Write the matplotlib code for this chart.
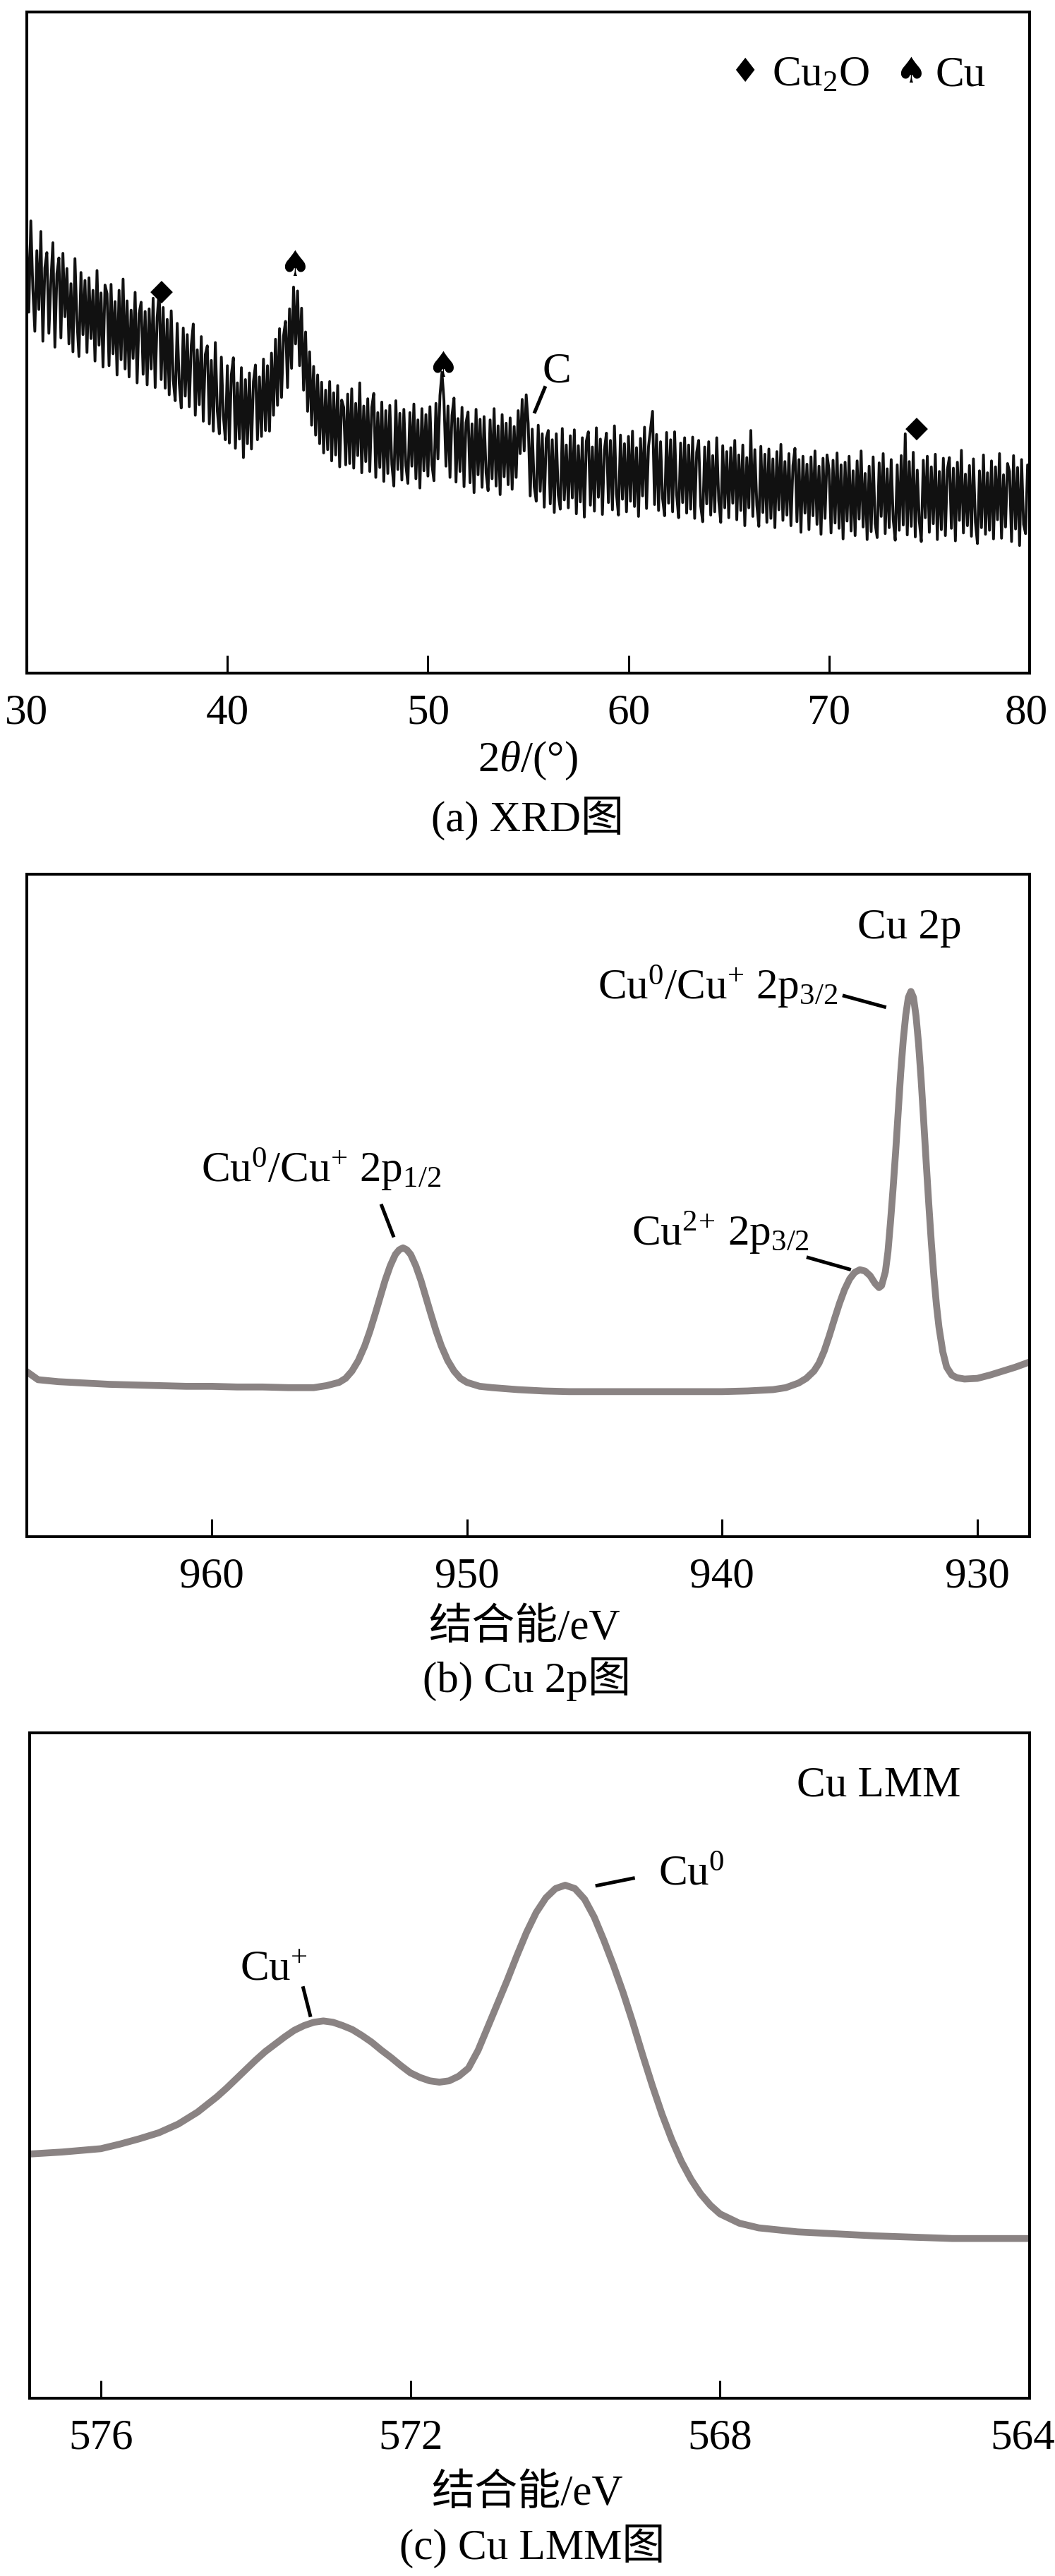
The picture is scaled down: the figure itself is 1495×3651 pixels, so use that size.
import matplotlib
matplotlib.use('Agg')
import numpy as np
import matplotlib.pyplot as plt
import matplotlib.transforms as mtransforms

plt.rcParams['font.family'] = ['Liberation Serif', 'Noto Sans CJK SC']
plt.rcParams['mathtext.fontset'] = 'custom'
plt.rcParams['mathtext.rm'] = 'Liberation Serif'
plt.rcParams['mathtext.it'] = 'Liberation Serif:italic'
plt.rcParams['mathtext.bf'] = 'Liberation Serif:bold'

# ---- (a) XRD, 30-80 deg, 0.1 deg step ----
xrd_2theta = np.linspace(30, 80, 501)
xrd_intensity = [
    65.2, 54.6, 68.4, 58.1, 51.7, 63.9, 55.0, 66.8, 50.2, 61.3,
    63.6, 51.4, 59.2, 65.1, 49.3, 60.4, 62.8, 50.7, 63.5, 53.9,
    61.2, 49.8, 58.9, 48.6, 62.7, 53.3, 47.9, 60.6, 51.2, 59.4,
    48.5, 59.8, 50.6, 57.9, 47.2, 60.9, 49.6, 57.5, 46.3, 58.7,
    57.4, 46.5, 58.8, 48.3, 56.2, 45.1, 57.9, 47.4, 59.6, 46.0,
    56.3, 44.8, 54.9, 47.6, 57.6, 43.9, 54.4, 56.1, 45.2, 54.7,
    43.6, 55.1, 46.0, 56.7, 43.2, 53.8, 57.9, 44.4, 55.3, 43.1,
    53.5, 42.1, 54.8, 44.3, 41.2, 52.9, 43.8, 40.1, 52.2, 41.9,
    51.2, 40.3, 49.6, 52.8, 39.0, 48.9, 40.6, 50.9, 38.1, 48.2,
    49.5, 37.7, 47.3, 36.6, 50.0, 39.6, 36.2, 47.8, 38.9, 35.3,
    46.5, 34.8, 45.2, 47.7, 34.0, 43.9, 35.4, 46.2, 32.6, 44.4,
    34.7, 45.4, 33.9, 44.1, 46.6, 35.3, 44.8, 35.8, 47.5, 36.7,
    46.5, 36.6, 48.4, 39.0, 50.5, 40.5, 52.1, 41.7, 51.0, 53.2,
    43.2, 55.1, 46.1, 58.4, 49.8, 57.8, 46.5, 55.2, 42.8, 51.6,
    39.6, 48.6, 37.5, 46.4, 36.0, 45.1, 34.7, 44.0, 33.3, 42.8,
    33.8, 44.1, 32.1, 42.4, 33.0, 43.5, 31.2, 41.3, 40.2, 31.5,
    42.2, 31.7, 43.0, 31.0, 40.8, 32.9, 43.9, 30.3, 40.4, 32.0,
    41.5, 30.5, 40.2, 42.3, 29.6, 39.4, 31.1, 41.0, 29.0, 39.7,
    30.2, 40.5, 31.6, 28.3, 41.2, 30.8, 39.3, 29.2, 39.9, 31.4,
    28.7, 39.4, 31.3, 40.7, 29.4, 38.3, 28.0, 40.0, 30.6, 39.1,
    29.8, 40.3, 31.5, 29.1, 40.8, 32.4, 42.0, 45.5, 41.2, 31.3,
    40.4, 29.6, 39.0, 41.6, 28.9, 38.5, 30.5, 40.2, 28.2, 37.9,
    39.5, 28.8, 37.7, 27.3, 39.9, 30.0, 38.4, 28.1, 38.8, 30.3,
    27.6, 38.3, 29.4, 40.0, 28.3, 37.4, 27.0, 39.1, 29.7, 37.8,
    28.5, 38.6, 27.8, 37.3, 29.6, 39.7, 33.2, 41.4, 33.6, 42.1,
    37.8, 26.8, 36.9, 28.2, 26.0, 37.5, 27.5, 36.2, 25.1, 35.5,
    36.7, 25.6, 35.3, 24.3, 36.2, 26.9, 24.8, 37.0, 26.2, 34.5,
    25.0, 35.9, 26.5, 36.8, 24.1, 34.4, 25.9, 35.6, 23.6, 35.1,
    36.5, 25.4, 34.2, 24.5, 37.1, 26.6, 35.4, 24.0, 33.8, 36.3,
    25.8, 35.2, 24.7, 37.4, 27.1, 23.9, 36.0, 26.3, 34.7, 24.4,
    35.8, 26.0, 36.6, 25.2, 34.1, 23.7, 35.5, 26.8, 37.2, 24.9,
    34.3, 36.9, 39.6, 25.5, 36.1, 24.6, 35.0, 26.4, 23.8, 36.4,
    25.7, 35.3, 24.4, 36.5, 27.0, 23.5, 34.8, 25.8, 35.6, 24.2,
    34.5, 24.8, 35.7, 23.4, 33.4, 35.2, 25.3, 22.9, 34.2, 25.6,
    35.0, 23.9, 32.9, 24.4, 35.6, 26.1, 22.8, 34.4, 25.0, 33.5,
    23.5, 34.1, 25.7, 35.2, 23.2, 33.0, 24.6, 34.5, 22.3, 32.6,
    25.0, 36.7, 23.7, 33.8, 25.4, 22.2, 34.3, 24.3, 33.1, 22.8,
    33.9, 23.4, 32.4, 22.0, 33.5, 24.7, 34.6, 23.1, 32.0, 23.9,
    33.2, 22.3, 31.4, 34.0, 22.9, 32.3, 21.3, 32.8, 24.2, 31.6,
    21.7, 32.7, 23.8, 33.6, 22.5, 31.3, 21.0, 32.5, 23.4, 33.0,
    30.8, 21.2, 32.2, 22.7, 33.3, 21.9, 31.5, 20.3, 31.9, 23.0,
    32.8, 21.5, 30.6, 20.8, 32.1, 23.3, 33.6, 22.1, 30.2, 20.2,
    31.3, 21.4, 32.7, 22.6, 20.5, 31.8, 23.7, 33.2, 21.1, 30.9,
    22.0, 32.3, 23.2, 20.1, 31.5, 21.6, 32.9, 22.4, 36.2, 20.9,
    32.0, 22.2, 33.4, 20.6, 30.7, 23.0, 19.9, 32.2, 23.5, 32.8,
    21.3, 31.2, 22.6, 33.1, 20.2, 30.5, 21.7, 32.5, 20.8, 30.8,
    32.6, 21.9, 31.0, 20.0, 31.9, 23.1, 33.7, 21.2, 30.1, 22.3,
    31.4, 20.7, 32.4, 22.8, 19.6, 30.6, 22.0, 33.0, 21.0, 30.3,
    21.6, 32.1, 20.3, 31.2, 23.2, 33.2, 20.4, 30.0, 22.1, 31.7,
    30.5, 19.9, 32.9, 21.8, 31.1, 19.3, 32.3, 22.5, 21.1, 31.5,
    27.2,
]
xrd_ticks = [30, 40, 50, 60, 70, 80]
cu2o_peaks = [(36.72, 57.7), (74.37, 36.9)]
cu_peaks = [(43.34, 61.6), (50.76, 46.3)]

# ---- (b) Cu 2p XPS ----
cu2p_be = [967.2, 966.8, 966.0, 965.0, 964.0, 963.0, 962.0, 961.0, 960.0, 959.0,
           958.0, 957.0, 956.0, 955.5, 955.0, 954.75, 954.5, 954.25, 954.0, 953.8,
           953.6, 953.4, 953.2, 953.0, 952.8, 952.65, 952.5, 952.35, 952.2, 952.0,
           951.8, 951.6, 951.4, 951.2, 951.0, 950.75, 950.5, 950.25, 950.0, 949.5,
           949.0, 948.0, 947.0, 946.0, 945.0, 944.0, 943.0, 942.0, 941.0, 940.0,
           939.0, 938.0, 937.5, 937.0, 936.7, 936.4, 936.2, 936.0, 935.8, 935.6,
           935.4, 935.2, 935.0, 934.8, 934.6, 934.4, 934.2, 934.0, 933.85, 933.75,
           933.6, 933.5, 933.4, 933.3, 933.2, 933.1, 933.0, 932.9, 932.8, 932.7,
           932.6, 932.5, 932.4, 932.3, 932.2, 932.1, 932.0, 931.9, 931.8, 931.7,
           931.6, 931.5, 931.35, 931.2, 931.0, 930.8, 930.5, 930.0, 929.5, 929.0,
           928.5, 928.0]
cu2p_int = [24.8, 23.7, 23.4, 23.2, 23.0, 22.9, 22.8, 22.7, 22.7, 22.6,
            22.6, 22.5, 22.5, 22.8, 23.3, 23.9, 25.0, 26.6, 28.8, 31.0,
            33.5, 36.1, 38.7, 40.9, 42.6, 43.3, 43.6, 43.3, 42.6, 40.9,
            38.7, 36.1, 33.5, 31.0, 28.8, 26.6, 25.0, 23.9, 23.3, 22.7,
            22.5, 22.2, 22.0, 21.9, 21.9, 21.9, 21.9, 21.9, 21.9, 21.9,
            22.0, 22.2, 22.5, 23.2, 23.9, 25.0, 26.2, 28.0, 30.3, 32.8,
            35.2, 37.3, 38.9, 39.9, 40.3, 40.1, 39.4, 38.2, 37.6, 37.9,
            40.0, 43.0, 47.5, 52.5, 58.0, 64.0, 70.0, 75.0, 78.8, 81.4,
            82.3, 81.4, 78.6, 74.4, 69.0, 62.8, 56.4, 50.2, 44.4, 39.3,
            35.0, 31.6, 27.9, 25.6, 24.4, 24.0, 23.8, 23.9, 24.4, 25.0,
            25.6, 26.3]
cu2p_ticks = [960, 950, 940, 930]

# ---- (c) Cu LMM ----
lmm_be = [576.92, 576.5, 576.0, 575.75, 575.5, 575.25, 575.0, 574.75, 574.5, 574.375,
          574.25, 574.125, 574.0, 573.875, 573.75, 573.625, 573.5, 573.375, 573.25, 573.125,
          573.0, 572.875, 572.75, 572.625, 572.5, 572.375, 572.25, 572.125, 572.0, 571.875,
          571.75, 571.625, 571.5, 571.375, 571.25, 571.125, 571.0, 570.875, 570.75, 570.625,
          570.5, 570.375, 570.25, 570.125, 570.0, 569.875, 569.75, 569.625, 569.5, 569.375,
          569.25, 569.125, 569.0, 568.875, 568.75, 568.625, 568.5, 568.375, 568.25, 568.125,
          568.0, 567.75, 567.5, 567.0, 566.5, 566.0, 565.5, 565.0, 564.5, 564.0]
lmm_int = [36.7, 37.0, 37.5, 38.2, 39.0, 39.9, 41.2, 43.0, 45.3, 46.6,
           48.0, 49.4, 50.8, 52.1, 53.2, 54.3, 55.3, 56.0, 56.5, 56.7,
           56.5, 56.0, 55.4, 54.5, 53.5, 52.3, 51.2, 50.0, 48.9, 48.2,
           47.7, 47.5, 47.7, 48.4, 49.6, 52.3, 55.8, 59.3, 62.8, 66.5,
           70.0, 73.0, 75.2, 76.6, 77.1, 76.6, 75.0, 72.3, 68.8, 65.0,
           60.9, 56.4, 51.6, 47.0, 42.7, 38.9, 35.6, 32.9, 30.7, 29.0,
           27.7, 26.3, 25.6, 25.0, 24.7, 24.4, 24.2, 24.0, 24.0, 24.0]
lmm_ticks = [576, 572, 568, 564]

W, H = 1495, 3651
FS = 44
GRAY = '#8a8383'

fig = plt.figure(figsize=(W / 100, H / 100), dpi=100)


def add_axes(left, top, right, bottom):
    return fig.add_axes([left / W, 1 - bottom / H, (right - left) / W, (bottom - top) / H])


def style(ax, ticks):
    for s in ax.spines.values():
        s.set_linewidth(2.9)
    ax.set_yticks([])
    ax.set_ylim(0, 100)
    ax.set_xticks(ticks)
    ax.set_xticklabels([str(t) for t in ticks])
    ax.tick_params(axis='x', direction='in', length=18, width=2.2,
                   labelsize=FS, pad=21)


def shift_last_label(ax, dx_px):
    lbl = ax.get_xticklabels()[-1]
    lbl.set_transform(lbl.get_transform() +
                      mtransforms.ScaledTranslation(dx_px / 100, 0, fig.dpi_scale_trans))


def ftext(px, py, s):
    fig.text(px / W, 1 - py / H, s, fontsize=FS, ha='center', va='baseline')


def lead(ax, x0, y0, x1, y1):
    ax.plot([x0, x1], [y0, y1], color='black', lw=3.6, solid_capstyle='butt')


# (a)
ax = add_axes(38, 17, 1459, 954)
ax.plot(xrd_2theta, xrd_intensity, color='#111111', lw=2.8)
ax.set_xlim(30, 80)
style(ax, xrd_ticks)
shift_last_label(ax, -5)
for x, y in cu2o_peaks:
    ax.text(x, y, '\u25c6', family='DejaVu Sans', fontsize=30, ha='center', va='center')
for x, y in cu_peaks:
    ax.text(x, y, '\u2660', family='DejaVu Sans', fontsize=36, ha='center', va='center')
ax.text(55.69, 44.0, 'C', fontsize=FS, ha='left', va='baseline')
lead(ax, 55.30, 39.3, 55.86, 43.4)
ax.text(65.78, 90.8, '\u2666', family='DejaVu Sans', fontsize=34, ha='center', va='center')
ax.text(67.16, 88.8, r'Cu$_2$O', fontsize=FS, ha='left', va='baseline')
ax.text(74.09, 90.8, '\u2660', family='DejaVu Sans', fontsize=36, ha='center', va='center')
ax.text(75.29, 88.8, 'Cu', fontsize=FS, ha='left', va='baseline')
ftext(748, 1093, r'2$\theta$/(°)')
ftext(748, 1178, '(a) XRD图')

# (b)
ax = add_axes(38, 1239, 1459, 2178)
ax.plot(cu2p_be, cu2p_int, color=GRAY, lw=7, solid_joinstyle='round')
ax.set_xlim(967.24, 927.95)
style(ax, cu2p_ticks)
ax.text(934.70, 90.3, 'Cu 2p', fontsize=FS, ha='left', va='baseline')
ax.text(944.87, 81.2, r'Cu$^{0}$/Cu$^{+}$ 2p$_{3/2}$', fontsize=FS, ha='left', va='baseline')
lead(ax, 935.28, 81.7, 933.57, 79.9)
ax.text(943.55, 44.0, r'Cu$^{2\!+\!}$ 2p$_{3/2}$', fontsize=FS, ha='left', va='baseline')
lead(ax, 936.69, 42.2, 934.95, 40.3)
ax.text(960.41, 53.6, r'Cu$^{0}$/Cu$^{+}$ 2p$_{1/2}$', fontsize=FS, ha='left', va='baseline')
lead(ax, 953.36, 50.2, 952.86, 45.2)
ftext(743, 2323, '结合能/eV')
ftext(747, 2398, '(b) Cu 2p图')

# (c)
ax = add_axes(42, 2456, 1459, 3399)
ax.plot(lmm_be, lmm_int, color=GRAY, lw=7, solid_joinstyle='round')
ax.set_xlim(576.92, 564.0)
style(ax, lmm_ticks)
shift_last_label(ax, -10)
ax.text(567.01, 90.5, 'Cu LMM', fontsize=FS, ha='left', va='baseline')
ax.text(568.80, 77.2, r'Cu$^{0}$', fontsize=FS, ha='left', va='baseline')
lead(ax, 569.61, 77.0, 569.10, 78.2)
ax.text(574.20, 62.8, r'Cu$^{+}$', fontsize=FS, ha='left', va='baseline')
lead(ax, 573.39, 61.9, 573.29, 57.3)
ftext(747, 3550, '结合能/eV')
ftext(754, 3627, '(c) Cu LMM图')

fig.savefig('out.png', dpi=100)
